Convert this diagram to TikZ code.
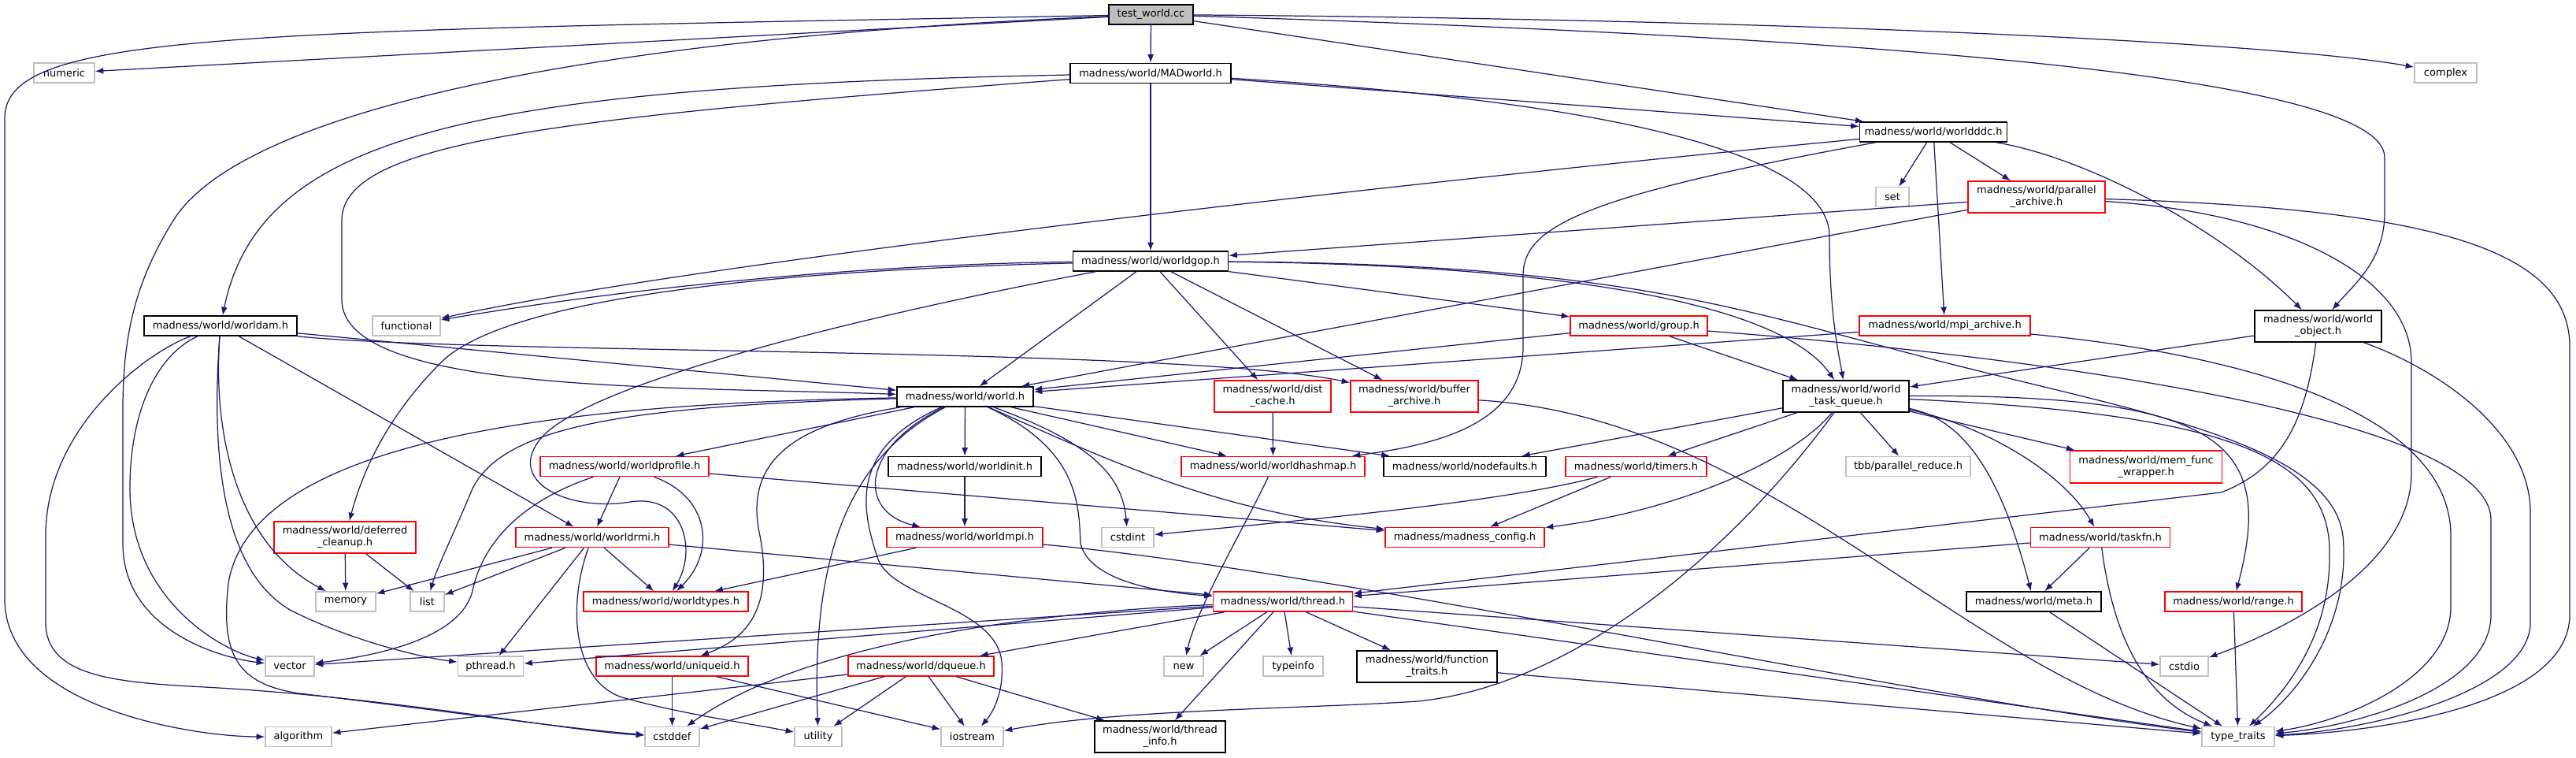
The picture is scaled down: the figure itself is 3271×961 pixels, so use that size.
\documentclass[tikz,border=0pt]{standalone}
\usepackage{fontspec}
\setmainfont{DejaVu Sans}
\usetikzlibrary{arrows.meta}
\definecolor{edgeblue}{HTML}{191970}
\definecolor{boxgray}{HTML}{BFBFBF}
\begin{document}
\begin{tikzpicture}[x=0.02cm,y=-0.02cm,
  hdr/.style={rectangle,inner sep=0pt,line width=0.9pt,fill=white,align=center,font=\fontsize{7.4}{8.6}\selectfont},
  docf/.style={hdr,draw=black},
  redf/.style={hdr,draw=red},
  sysf/.style={hdr,draw=boxgray},
  rootf/.style={hdr,draw=black,fill=boxgray},
  sz/.style 2 args={minimum width=#1*0.02cm,minimum height=#2*0.02cm},
  incl/.style={draw=edgeblue,line width=0.7pt,-{Latex[length=6pt,width=4.5pt]}}]
\useasboundingbox (0,0) rectangle (3271,961);
\node[rootf,sz={107}{25}] (twcc) at (1461.5,18.5) {test\_world.cc};
\node[sysf,sz={77}{25}] (numeric) at (81.5,92.5) {numeric};
\node[docf,sz={204}{25}] (madworld) at (1461,93) {madness/world/MADworld.h};
\node[sysf,sz={79}{25}] (complex) at (3105.5,92.5) {complex};
\node[docf,sz={187}{25}] (worldddc) at (2455,167.5) {madness/world/worldddc.h};
\node[sysf,sz={42}{25}] (set) at (2403,250) {set};
\node[redf,sz={174}{40}] (parallel) at (2586,250) {madness/world/parallel\\\_archive.h};
\node[docf,sz={197}{25}] (worldgop) at (1461,331.5) {madness/world/worldgop.h};
\node[docf,sz={194}{25}] (worldam) at (280,413.5) {madness/world/worldam.h};
\node[sysf,sz={86}{25}] (functional) at (516,413.5) {functional};
\node[redf,sz={174}{25}] (group) at (2081,413.5) {madness/world/group.h};
\node[redf,sz={217}{25}] (mpiarch) at (2469.5,413.5) {madness/world/mpi\_archive.h};
\node[docf,sz={161}{40}] (worldobj) at (2943.5,414) {madness/world/world\\\_object.h};
\node[docf,sz={173}{25}] (world) at (1225.5,503.5) {madness/world/world.h};
\node[redf,sz={148}{40}] (distcache) at (1616,503) {madness/world/dist\\\_cache.h};
\node[redf,sz={162}{40}] (buffer) at (1796,503) {madness/world/buffer\\\_archive.h};
\node[docf,sz={160}{40}] (taskq) at (2344,503) {madness/world/world\\\_task\_queue.h};
\node[redf,sz={214}{25}] (worldprofile) at (793,592) {madness/world/worldprofile.h};
\node[docf,sz={194}{25}] (worldinit) at (1225,592) {madness/world/worldinit.h};
\node[redf,sz={233}{25}] (hashmap) at (1616.5,592) {madness/world/worldhashmap.h};
\node[docf,sz={206}{25}] (nodefaults) at (1860,592) {madness/world/nodefaults.h};
\node[redf,sz={179}{25}] (timers) at (2077.5,592) {madness/world/timers.h};
\node[sysf,sz={158}{25}] (tbb) at (2423,592) {tbb/parallel\_reduce.h};
\node[redf,sz={193}{41}] (memfunc) at (2725,592.5) {madness/world/mem\_func\\\_wrapper.h};
\node[redf,sz={180}{40}] (deferred) at (438,682) {madness/world/deferred\\\_cleanup.h};
\node[redf,sz={194}{25}] (worldrmi) at (752,682) {madness/world/worldrmi.h};
\node[redf,sz={198}{25}] (worldmpi) at (1225,682) {madness/world/worldmpi.h};
\node[sysf,sz={66}{25}] (cstdint) at (1432,682) {cstdint};
\node[redf,sz={202}{25}] (config) at (1860,682) {madness/madness\_config.h};
\node[redf,sz={177}{25}] (taskfn) at (2667,682) {madness/world/taskfn.h};
\node[sysf,sz={76}{25}] (memory) at (439,763.5) {memory};
\node[sysf,sz={43}{25}] (list) at (542.5,763.5) {list};
\node[redf,sz={209}{25}] (worldtypes) at (845.5,763.5) {madness/world/worldtypes.h};
\node[redf,sz={177}{25}] (thread) at (1629,763.5) {madness/world/thread.h};
\node[docf,sz={171}{25}] (meta) at (2582.5,763.5) {madness/world/meta.h};
\node[redf,sz={174}{25}] (range) at (2836,763.5) {madness/world/range.h};
\node[sysf,sz={62}{25}] (vector) at (368,845.5) {vector};
\node[sysf,sz={83}{25}] (pthread) at (623,845.5) {pthread.h};
\node[redf,sz={193}{25}] (uniqueid) at (853.5,845.5) {madness/world/uniqueid.h};
\node[redf,sz={185}{25}] (dqueue) at (1169.5,845.5) {madness/world/dqueue.h};
\node[sysf,sz={50}{25}] (new) at (1503,845.5) {new};
\node[sysf,sz={76}{25}] (typeinfo) at (1642,845.5) {typeinfo};
\node[docf,sz={178}{40}] (functraits) at (1812,846) {madness/world/function\\\_traits.h};
\node[sysf,sz={61}{25}] (cstdio) at (2773.5,845.5) {cstdio};
\node[sysf,sz={84}{25}] (algorithm) at (379,935) {algorithm};
\node[sysf,sz={69}{25}] (cstddef) at (853.5,935) {cstddef};
\node[sysf,sz={60}{25}] (utility) at (1039,935) {utility};
\node[sysf,sz={79}{25}] (iostream) at (1234.5,935) {iostream};
\node[docf,sz={166}{40}] (threadinfo) at (1473,935) {madness/world/thread\\\_info.h};
\node[sysf,sz={92}{25}] (typetraits) at (2842,935) {type\_traits};
\foreach \a/\b in {twcc/numeric,twcc/madworld,twcc/worldddc,madworld/worldgop,madworld/worldddc,
  worldddc/set,worldddc/mpiarch,worldddc/parallel,parallel/worldgop,parallel/world,
  worldgop/world,worldgop/distcache,worldgop/buffer,worldgop/group,worldam/worldrmi,worldam/world,
  world/worldprofile,world/worldinit,world/hashmap,world/nodefaults,worldinit/worldmpi,
  worldmpi/worldtypes,worldprofile/worldrmi,worldprofile/config,deferred/memory,deferred/list,
  worldrmi/memory,worldrmi/list,worldrmi/pthread,worldrmi/worldtypes,worldrmi/thread,
  uniqueid/cstddef,uniqueid/iostream,dqueue/algorithm,dqueue/cstddef,dqueue/utility,
  dqueue/iostream,dqueue/threadinfo,thread/vector,thread/pthread,thread/dqueue,thread/new,
  thread/typeinfo,thread/threadinfo,thread/functraits,thread/cstdio,thread/typetraits,
  distcache/hashmap,timers/config,taskq/nodefaults,taskq/timers,taskq/tbb,taskq/memfunc,
  taskfn/meta,taskfn/thread,meta/typetraits,range/typetraits,functraits/typetraits,
  worldobj/taskq,mpiarch/world,group/world,group/taskq}
  \draw[incl] (\a) -- (\b);
\draw[incl] (twcc) .. controls (300,40) and (6,40) .. (6,150) -- (6,760) .. controls (6,900) and (250,935) .. (algorithm);
\draw[incl] (twcc) .. controls (700,50) and (300,150) .. (220,280) .. controls (170,360) and (156,430) .. (156,520) -- (156,690) .. controls (156,800) and (280,835) .. (vector);
\draw[incl] (twcc) .. controls (2300,25) and (2900,55) .. (complex);
\draw[incl] (twcc) .. controls (2300,45) and (3028,90) .. (3028,200) -- (3028,270) .. controls (3028,330) and (2990,360) .. (worldobj);
\draw[incl] (madworld) .. controls (600,110) and (330,170) .. (worldam);
\draw[incl] (madworld) .. controls (700,150) and (434,180) .. (434,280) -- (434,380) .. controls (434,500) and (850,490) .. (world);
\draw[incl] (madworld) .. controls (1900,120) and (2323,170) .. (2323,300) .. controls (2323,400) and (2335,450) .. (taskq);
\draw[incl] (worldddc) .. controls (1800,230) and (900,330) .. (functional);
\draw[incl] (worldddc) .. controls (2000,250) and (1934,290) .. (1934,350) -- (1934,440) .. controls (1934,540) and (1820,565) .. (hashmap);
\draw[incl] (worldddc) .. controls (2650,200) and (2820,290) .. (worldobj);
\draw[incl] (parallel) .. controls (2900,270) and (3062,350) .. (3062,460) -- (3062,600) .. controls (3062,720) and (2900,800) .. (cstdio);
\draw[incl] (parallel) .. controls (3100,265) and (3263,320) .. (3263,440) -- (3263,780) .. controls (3263,900) and (3000,930) .. (typetraits);
\draw[incl] (worldgop) .. controls (1100,335) and (800,365) .. (functional);
\draw[incl] (worldgop) .. controls (900,345) and (630,390) .. (560,460) .. controls (490,530) and (460,600) .. (deferred);
\draw[incl] (worldgop) .. controls (1100,400) and (750,485) .. (688,555) .. controls (640,610) and (720,650) .. (800,637) .. controls (870,626) and (885,700) .. (worldtypes);
\draw[incl] (worldgop) .. controls (1900,335) and (2250,370) .. (taskq);
\draw[incl] (worldgop) .. controls (2050,335) and (2200,390) .. (2450,455) .. controls (2700,520) and (2960,560) .. (2975,680) .. controls (2985,790) and (2920,880) .. (typetraits);
\draw[incl] (worldam) .. controls (200,450) and (165,520) .. (165,620) .. controls (165,760) and (280,825) .. (vector);
\draw[incl] (worldam) .. controls (190,445) and (58,540) .. (58,680) -- (58,790) .. controls (58,860) and (150,866) .. (260,872) .. controls (500,885) and (720,928) .. (cstddef);
\draw[incl] (worldam) .. controls (270,550) and (300,690) .. (memory);
\draw[incl] (worldam) .. controls (266,600) and (290,730) .. (370,775) .. controls (450,815) and (540,835) .. (pthread);
\draw[incl] (worldam.south east) .. controls (600,450) and (1500,440) .. (buffer);
\draw[incl] (world) .. controls (800,515) and (640,540) .. (600,620) .. controls (575,680) and (555,720) .. (list);
\draw[incl] (world) .. controls (700,512) and (320,560) .. (290,740) .. controls (280,830) and (300,868) .. (380,880) .. controls (550,900) and (720,925) .. (cstddef);
\draw[incl] (world) .. controls (1000,540) and (945,590) .. (965,680) .. controls (982,770) and (950,810) .. (uniqueid);
\draw[incl] (world) .. controls (1080,580) and (1030,700) .. (utility);
\draw[incl] (world) .. controls (1075,570) and (1095,650) .. (1115,710) .. controls (1135,760) and (1265,770) .. (1272,840) .. controls (1275,880) and (1260,905) .. (iostream);
\draw[incl] (world) .. controls (1090,570) and (1090,650) .. (worldmpi);
\draw[incl] (world) .. controls (1370,570) and (1370,640) .. (1372,690) .. controls (1385,740) and (1480,752) .. (thread);
\draw[incl] (world) .. controls (1380,560) and (1425,600) .. (cstdint);
\draw[incl] (world) .. controls (1420,590) and (1550,650) .. (config);
\draw[incl] (worldprofile) .. controls (650,640) and (610,700) .. (600,750) .. controls (585,810) and (480,832) .. (vector);
\draw[incl] (worldprofile) .. controls (900,630) and (910,700) .. (worldtypes);
\draw[incl] (worldrmi) .. controls (720,770) and (728,865) .. (790,885) .. controls (860,905) and (950,918) .. (utility);
\draw[incl] (worldmpi) .. controls (1700,725) and (2400,880) .. (typetraits);
\draw[incl] (thread) .. controls (1250,780) and (1000,830) .. (cstddef);
\draw[incl] (hashmap) .. controls (1585,660) and (1520,770) .. (new);
\draw[incl] (timers) .. controls (1900,640) and (1600,665) .. (cstdint);
\draw[incl] (taskq) .. controls (2270,590) and (2120,650) .. (config);
\draw[incl] (taskq) .. controls (2200,700) and (2000,870) .. (1800,890) .. controls (1650,900) and (1420,900) .. (iostream);
\draw[incl] (taskq) .. controls (2510,535) and (2550,640) .. (meta);
\draw[incl] (taskq) .. controls (2520,540) and (2620,600) .. (taskfn);
\draw[incl] (taskq) .. controls (2820,500) and (2890,560) .. (range);
\draw[incl] (taskq) .. controls (2830,525) and (2958,580) .. (2958,700) .. controls (2960,800) and (2910,870) .. (typetraits);
\draw[incl] (taskfn) .. controls (2685,820) and (2730,890) .. (typetraits);
\draw[incl] (worldobj) .. controls (2928,530) and (2900,595) .. (2820,625) -- (thread);
\draw[incl] (worldobj) .. controls (3100,470) and (3213,550) .. (3213,650) -- (3213,790) .. controls (3213,880) and (3000,928) .. (typetraits);
\draw[incl] (mpiarch) .. controls (2900,455) and (3112,540) .. (3112,680) -- (3112,770) .. controls (3112,860) and (2980,915) .. (typetraits);
\draw[incl] (group) .. controls (2500,445) and (3163,520) .. (3163,660) -- (3163,780) .. controls (3163,875) and (2990,922) .. (typetraits);
\draw[incl] (buffer) .. controls (2250,530) and (2500,860) .. (typetraits);
\end{tikzpicture}
\end{document}
